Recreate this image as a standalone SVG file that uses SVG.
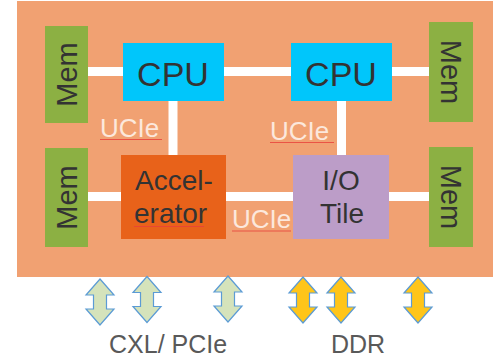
<svg xmlns="http://www.w3.org/2000/svg" xmlns:xlink="http://www.w3.org/1999/xlink" width="493" height="361" viewBox="0 0 493 361">
<style>
.bg{fill:#F1A172}
.mem{fill:#8CB043}
.cpu{fill:#00C6FB}
.acc{fill:#E8621A}
.io{fill:#BC9DC8}
.t{font-family:"Liberation Sans",Arial,sans-serif;fill:#333333}
.big{font-size:34px}
.mid{font-size:28px}
.memt{font-size:29px}
.uc{font-family:"Liberation Sans",Arial,sans-serif;font-size:26px;fill:#FCE8DC}
.lbl{font-family:"Liberation Sans",Arial,sans-serif;font-size:25px;fill:#595959}
.wire{stroke:#FFFFFF;stroke-width:9;fill:none}
.sq{stroke:#E8403A;stroke-width:1;fill:none;opacity:0.8}
.ag{fill:#D5E3BB;stroke:#5B9BD5;stroke-width:1.2}
.ay{fill:#FFC519;stroke:#5B9BD5;stroke-width:1.2}
</style>
<defs>
<path id="arr" d="M0,0 L14,16 L6.5,16 L6.5,30 L14,30 L0,46 L-14,30 L-6.5,30 L-6.5,16 L-14,16 Z"/>
</defs>
<rect class="bg" x="17" y="1" width="476" height="276"/>
<g id="connectors">
<line class="wire" x1="88" y1="71.5" x2="123" y2="71.5"/>
<line class="wire" x1="224" y1="71.5" x2="291" y2="71.5"/>
<line class="wire" x1="392" y1="71.5" x2="429" y2="71.5"/>
<line class="wire" x1="173" y1="101" x2="173" y2="155"/>
<line class="wire" x1="341.5" y1="101" x2="341.5" y2="155"/>
<line class="wire" x1="88" y1="196.5" x2="121" y2="196.5"/>
<line class="wire" x1="226" y1="196.5" x2="293" y2="196.5"/>
<line class="wire" x1="389" y1="196.5" x2="429" y2="196.5"/>
</g>
<g id="ucie1">
<text class="uc" x="100" y="137">UCIe</text>
<path class="sq" d="M100,139.5 h62"/>
</g>
<g id="ucie2">
<text class="uc" x="270" y="140">UCIe</text>
<path class="sq" d="M270,142.5 h64"/>
</g>
<g id="ucie3">
<text class="uc" x="232" y="228">UCIe</text>
<path class="sq" d="M232,231 h59"/>
</g>
<g id="mem1">
<rect class="mem" x="45" y="26" width="43" height="97"/>
<text class="t memt" text-anchor="middle" transform="translate(76.5,74.5) rotate(-90)">Mem</text>
</g>
<g id="mem2">
<rect class="mem" x="45" y="148" width="43" height="99"/>
<text class="t memt" text-anchor="middle" transform="translate(76.5,197.5) rotate(-90)">Mem</text>
</g>
<g id="mem3">
<rect class="mem" x="429" y="22" width="44" height="100"/>
<text class="t memt" text-anchor="middle" transform="translate(440.5,72) rotate(90)">Mem</text>
</g>
<g id="mem4">
<rect class="mem" x="429" y="147" width="44" height="100"/>
<text class="t memt" text-anchor="middle" transform="translate(440.5,197) rotate(90)">Mem</text>
</g>
<g id="cpu1">
<rect class="cpu" x="123" y="43" width="101" height="58"/>
<text class="t big" x="173" y="86" text-anchor="middle">CPU</text>
</g>
<g id="cpu2">
<rect class="cpu" x="291" y="43" width="101" height="58"/>
<text class="t big" x="341" y="86" text-anchor="middle">CPU</text>
</g>
<g id="accel">
<rect class="acc" x="121" y="155" width="105" height="84"/>
<text class="t mid" x="135" y="190">Accel-</text>
<text class="t mid" x="134" y="223">erator</text>
<path class="sq" d="M134,226.5 h70"/>
</g>
<g id="iotile">
<rect class="io" x="293" y="155" width="96" height="84"/>
<text class="t mid" x="341" y="190" text-anchor="middle">I/O</text>
<text class="t mid" x="342" y="223" text-anchor="middle">Tile</text>
</g>
<g id="arrows">
<use xlink:href="#arr" class="ag" transform="translate(100,279)"/>
<use xlink:href="#arr" class="ag" transform="translate(147,276.5)"/>
<use xlink:href="#arr" class="ag" transform="translate(228,276)"/>
<use xlink:href="#arr" class="ay" transform="translate(303,277)"/>
<use xlink:href="#arr" class="ay" transform="translate(341,277)"/>
<use xlink:href="#arr" class="ay" transform="translate(418,277)"/>
</g>
<text class="lbl" x="109" y="353">CXL/ PCIe</text>
<text class="lbl" x="331" y="353">DDR</text>
</svg>
